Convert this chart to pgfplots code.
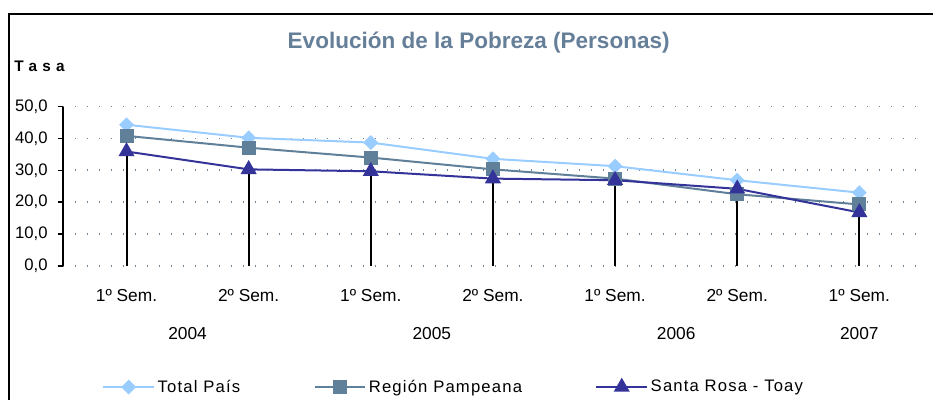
\documentclass[border=0pt]{standalone}
\usepackage{pgfplots}
\pgfplotsset{compat=1.18}
\usepackage{fontspec}
\setmainfont{Liberation Sans}
\newfontfamily\spaced[LetterSpace=7]{Liberation Sans}
\definecolor{cTotal}{HTML}{99CCFF}
\definecolor{cRegion}{HTML}{607F99}
\definecolor{cSanta}{HTML}{333399}
\definecolor{cTitle}{HTML}{667F99}
\definecolor{cGrid}{HTML}{6F8599}
\begin{document}
\begin{tikzpicture}
\useasboundingbox (0pt,0pt) rectangle (699.75pt,-300pt);
\draw[line width=1.3pt] (6.75pt,-302pt) -- (6.75pt,-10.5pt) -- (702pt,-10.5pt);
\node[text=cTitle, font=\fontsize{16.9}{19}\selectfont\bfseries] at (359pt,-32.25pt) {Evolución de la Pobreza (Personas)};
\node[anchor=west, font=\fontsize{11.5}{14}\selectfont\bfseries, inner sep=0pt] at (10.5pt,-49.5pt) {T\,\,a\,\,s\,\,a};
\begin{axis}[
  at={(47.25pt,-199.5pt)}, anchor=south west,
  scale only axis, width=641.25pt, height=119.6pt,
  xmin=-0.52, xmax=6.48, ymin=0, ymax=50,
  axis x line*=bottom, axis y line*=left,
  x axis line style={draw=none},
  y axis line style={black, line width=1.4pt},
  ytick={0,10,...,50},
  ytick pos=left, tick align=outside,
  major tick length=4pt,
  ytick style={black, line width=1.2pt},
  xtick style={draw=none},
  ymajorgrids,
  grid style={cGrid, line width=1.3pt, dash pattern=on 1.1pt off 7.9pt},
  /pgf/number format/.cd, fixed, fixed zerofill, precision=1, use comma, assume math mode=true,
  /pgfplots/.cd,
  yticklabel style={font=\fontsize{12.5}{15}\selectfont, xshift=-4pt},
  xtick={0,...,6},
  xticklabels={1º Sem., 2º Sem., 1º Sem., 2º Sem., 1º Sem., 2º Sem., 1º Sem.},
  x tick label style={font=\fontsize{13}{15}\selectfont, anchor=center, yshift=-18pt},
  extra x ticks={0.5,2.5,4.5,6},
  extra x tick labels={2004,2005,2006,2007},
  extra x tick style={grid=none, major tick length=0pt, tick label style={yshift=-33pt}},
  clip=false,
  legend columns=3,
  legend style={at={(0.0457,-0.759)}, anchor=west, draw=none, fill=none, inner sep=0pt,
    font=\fontsize{12.5}{15}\selectfont\spaced,
    /tikz/every even column/.append style={column sep=53pt}},
  legend cell align=left,
  legend image code/.code={\draw[mark repeat=2,mark phase=2,#1] plot coordinates {(0pt,0pt) (19pt,0pt) (38pt,0pt)};},
]
\addplot[black, line width=1.5pt, ycomb, no marks, forget plot] coordinates {
(0,35.9) (1,30.3) (2,29.7) (3,27.4) (4,26.9) (5,24.2) (6,16.8)};
\addplot[cTotal, line width=1.5pt, mark=square*, mark size=3.2pt, mark options={rotate=45, fill=cTotal, draw=cTotal}] coordinates {
(0,44.3) (1,40.2) (2,38.7) (3,33.6) (4,31.3) (5,26.9) (6,23.0)};
\addlegendentry{Total País}
\addplot[cRegion, line width=1.5pt, mark=square*, mark size=4.5pt, mark options={fill=cRegion, draw=cRegion}] coordinates {
(0,40.8) (1,37.1) (2,34.0) (3,30.3) (4,27.4) (5,22.5) (6,19.3)};
\addlegendentry{Región Pampeana}
\addplot[cSanta, line width=1.5pt, mark=triangle*, mark size=5.5pt, mark options={fill=cSanta, draw=cSanta}] coordinates {
(0,35.9) (1,30.3) (2,29.7) (3,27.4) (4,26.9) (5,24.2) (6,16.8)};
\addlegendentry{Santa Rosa - Toay}
\end{axis}
\end{tikzpicture}
\end{document}
